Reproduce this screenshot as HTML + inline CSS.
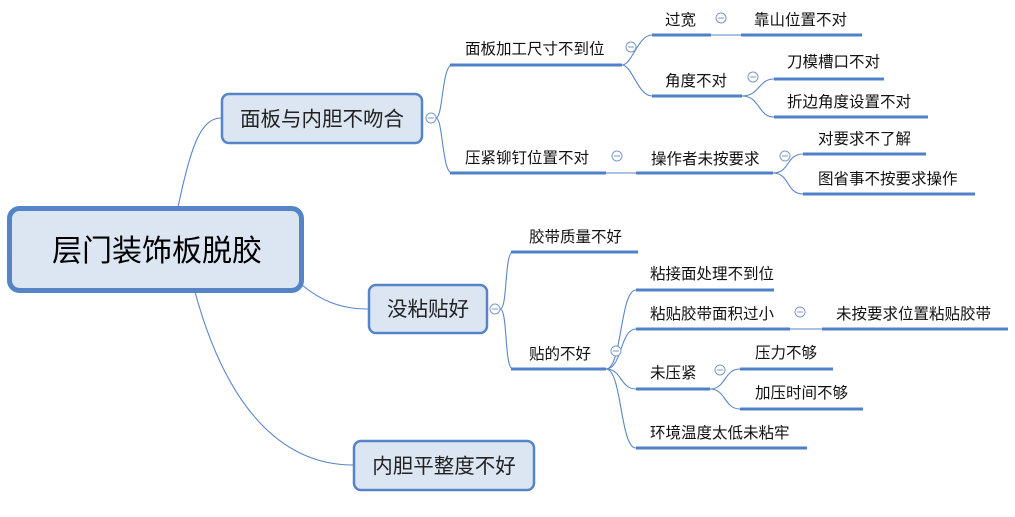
<!DOCTYPE html>
<html><head><meta charset="utf-8"><style>
html,body{margin:0;padding:0;background:#fff;}
svg{display:block;}
text{font-family:"Liberation Sans","Noto Sans CJK SC",sans-serif;fill:#111;}
.t{font-size:15.5px;}
.u{stroke:#4f81c8;stroke-width:3;fill:none;}
.c{stroke:#5b86c4;stroke-width:1.1;fill:none;}
.box{fill:#dce6f2;stroke:#5585c8;stroke-width:2.5;}
</style></head><body>
<svg width="1015" height="517" viewBox="0 0 1015 517">
<path class="c" d="M178 207 C190 150,200 118,221 118"/>
<path class="c" d="M302 285 C320 300,340 309,368 309"/>
<path class="c" d="M195 292 C230 420,290 465,353 465"/>

<rect x="9.5" y="208.5" width="292" height="82" rx="10" fill="#dce6f2" stroke="#5585c8" stroke-width="5"/>
<text x="157" y="261" text-anchor="middle" style="font-size:30px;font-weight:normal;fill:#000">层门装饰板脱胶</text>

<rect class="box" x="222" y="94" width="200" height="49" rx="7"/>
<text x="322" y="126" text-anchor="middle" style="font-size:20.5px;fill:#222">面板与内胆不吻合</text>
<rect class="box" x="369" y="285" width="118" height="48" rx="7"/>
<text x="428" y="316" text-anchor="middle" style="font-size:20.5px;fill:#222">没粘贴好</text>
<rect class="box" x="354" y="441" width="180" height="49" rx="7"/>
<text x="444" y="473" text-anchor="middle" style="font-size:20.5px;fill:#222">内胆平整度不好</text>

<g class="c">
<path d="M436 118 C443 118,442 65,452 65"/>
<path d="M436 118 C443 118,442 173,452 173"/>
<path d="M622 65 C632 65,638 35,652 35"/>
<path d="M622 65 C632 65,638 96,652 96"/>
<path d="M711 35 L741 35"/>
<path d="M742 96 C760 96,758 79,774 79"/>
<path d="M742 96 C760 96,758 117,774 117"/>
<path d="M606 173 L636 173"/>
<path d="M773 173 C790 173,786 154,803 154"/>
<path d="M773 173 C790 173,786 194,803 194"/>
<path d="M500 309 C508 309,504 252,513 252"/>
<path d="M500 309 C508 309,504 369,513 369"/>
<path d="M606 369 C622 369,620 290,636 290"/>
<path d="M606 369 C622 369,620 329,636 329"/>
<path d="M606 369 C622 369,620 389,636 389"/>
<path d="M606 369 C622 369,620 448,636 448"/>
<path d="M790 329 L822 329"/>
<path d="M710 389 C726 389,724 369,740 369"/>
<path d="M710 389 C726 389,724 409,740 409"/>
</g>

<g class="u">
<line x1="450" y1="65" x2="622" y2="65"/>
<line x1="450" y1="173" x2="606" y2="173"/>
<line x1="652" y1="35" x2="711" y2="35"/>
<line x1="741" y1="35" x2="862" y2="35"/>
<line x1="652" y1="96" x2="742" y2="96"/>
<line x1="774" y1="79" x2="884" y2="79"/>
<line x1="774" y1="117" x2="928" y2="117"/>
<line x1="636" y1="173" x2="773" y2="173"/>
<line x1="803" y1="154" x2="926" y2="154"/>
<line x1="803" y1="194" x2="975" y2="194"/>
<line x1="511" y1="252" x2="638" y2="252"/>
<line x1="511" y1="369" x2="606" y2="369"/>
<line x1="636" y1="290" x2="774" y2="290"/>
<line x1="636" y1="329" x2="790" y2="329"/>
<line x1="822" y1="329" x2="1008" y2="329"/>
<line x1="636" y1="389" x2="710" y2="389"/>
<line x1="740" y1="369" x2="833" y2="369"/>
<line x1="740" y1="409" x2="863" y2="409"/>
<line x1="636" y1="448" x2="807" y2="448"/>
</g>

<g>
<text class="t" x="465" y="54">面板加工尺寸不到位</text>
<text class="t" x="465" y="163">压紧铆钉位置不对</text>
<text class="t" x="665" y="25">过宽</text>
<text class="t" x="754" y="25">靠山位置不对</text>
<text class="t" x="665" y="86">角度不对</text>
<text class="t" x="787" y="67">刀模槽口不对</text>
<text class="t" x="787" y="107">折边角度设置不对</text>
<text class="t" x="651" y="164">操作者未按要求</text>
<text class="t" x="818" y="144">对要求不了解</text>
<text class="t" x="818" y="184">图省事不按要求操作</text>
<text class="t" x="529" y="242">胶带质量不好</text>
<text class="t" x="529" y="359">贴的不好</text>
<text class="t" x="650" y="279">粘接面处理不到位</text>
<text class="t" x="650" y="319">粘贴胶带面积过小</text>
<text class="t" x="836" y="319">未按要求位置粘贴胶带</text>
<text class="t" x="650" y="378">未压紧</text>
<text class="t" x="755" y="358">压力不够</text>
<text class="t" x="755" y="398">加压时间不够</text>
<text class="t" x="650" y="438">环境温度太低未粘牢</text>
</g>

<g stroke="#7b99c6" stroke-width="1" fill="#fff">
<circle cx="431" cy="118" r="5"/><line x1="428" y1="118" x2="434" y2="118"/>
<circle cx="495" cy="309" r="5"/><line x1="492" y1="309" x2="498" y2="309"/>
<circle cx="631" cy="47" r="5"/><line x1="628" y1="47" x2="634" y2="47"/>
<circle cx="617" cy="156" r="5"/><line x1="614" y1="156" x2="620" y2="156"/>
<circle cx="721" cy="18" r="5"/><line x1="718" y1="18" x2="724" y2="18"/>
<circle cx="753" cy="77" r="5"/><line x1="750" y1="77" x2="756" y2="77"/>
<circle cx="785" cy="156" r="5"/><line x1="782" y1="156" x2="788" y2="156"/>
<circle cx="616" cy="351" r="5"/><line x1="613" y1="351" x2="619" y2="351"/>
<circle cx="800" cy="312" r="5"/><line x1="797" y1="312" x2="803" y2="312"/>
<circle cx="720" cy="370" r="5"/><line x1="717" y1="370" x2="723" y2="370"/>
</g>
</svg>
</body></html>
